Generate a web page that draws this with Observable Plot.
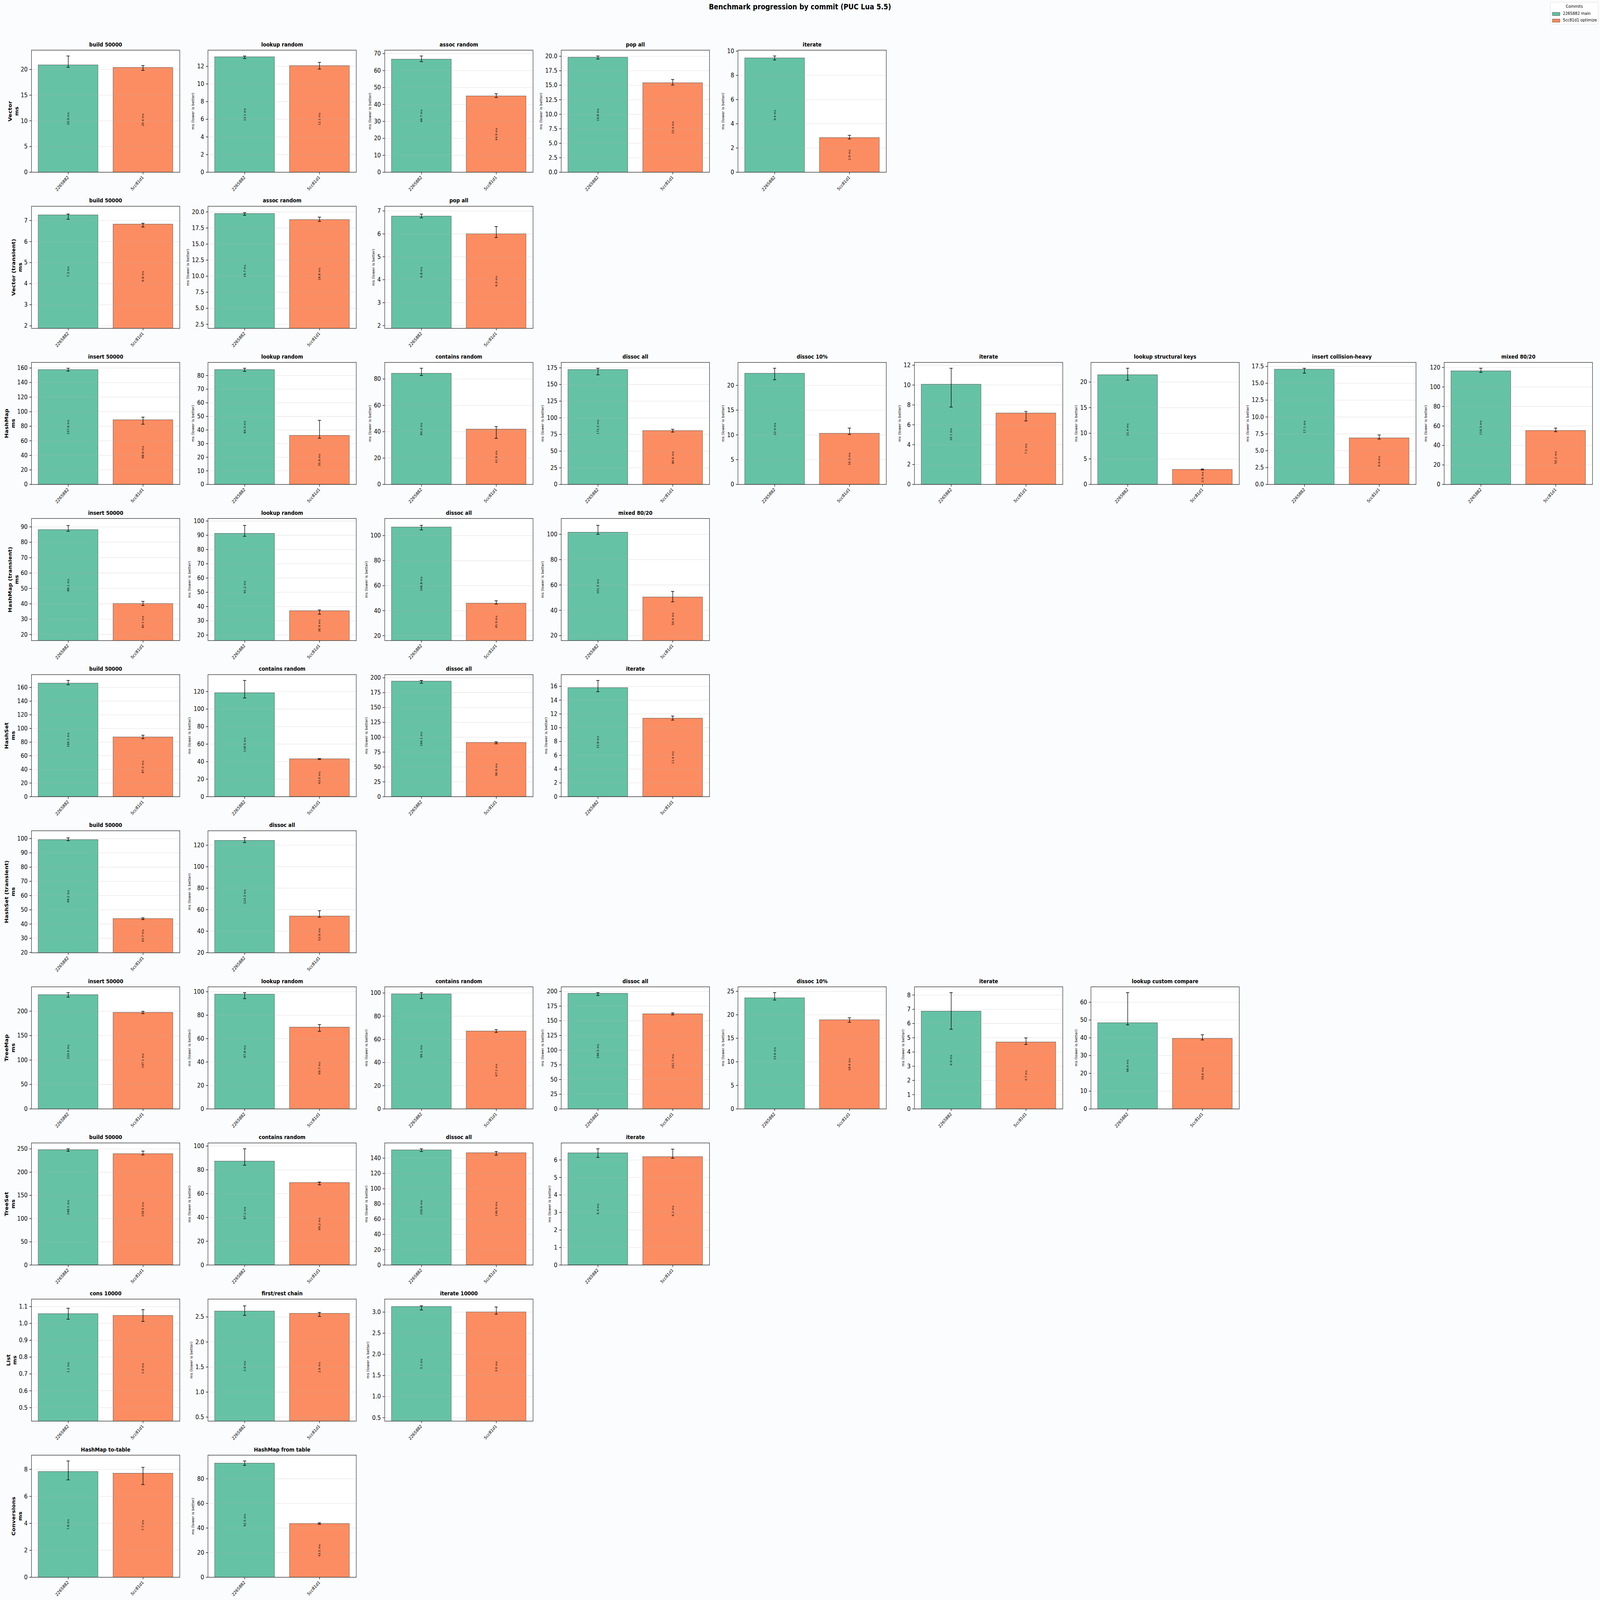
<!DOCTYPE html>
<html>
<head>
<meta charset="utf-8">
<script src="https://cdn.jsdelivr.net/npm/d3@7"></script>
<script src="https://cdn.jsdelivr.net/npm/@observablehq/plot@0.6"></script>
<style>
  html, body { margin: 0; padding: 0; background: #fbfcfd; overflow: hidden; }
  #fig { position: relative; width: 6074px; height: 5309px; background: #fbfcfd; font-family: "DejaVu Sans", sans-serif; overflow: hidden; transform-origin: 0 0; }
  #title { position: absolute; left: 0; width: 6074px; top: 8px; text-align: center; font-weight: bold; font-size: 25px; line-height: 30px; color: #000; }
  #legend { position: absolute; left: 5885px; top: 7px; width: 181px; height: 72px; border: 1px solid #d4d4d4; border-radius: 4px; background: #ffffff; font-size: 14.5px; color: #000; }
  #legend .lt { position: absolute; top: 4px; width: 100%; text-align: center; line-height: 18px; }
  #legend .sw { position: absolute; left: 7px; width: 27px; height: 9px; border: 1px solid #333; }
  #legend .tx { position: absolute; left: 47px; line-height: 18px; white-space: nowrap; }
</style>
</head>
<body>
<div id="fig">
  <div id="title">Benchmark progression by commit (PUC Lua 5.5)</div>
  <div id="legend"></div>
</div>
<script>
// ---------- data ----------
const commits = ["2265882", "5cc81d1"];
const commitNames = ["2265882 main", "5cc81d1 optimize"];
const commitColors = ["#66c2a5", "#fc8d62"];

const groups = ["Vector", "Vector (transient)", "HashMap", "HashMap (transient)", "HashSet",
                "HashSet (transient)", "TreeMap", "TreeSet", "List", "Conversions"];
const groupSizes = [5, 3, 9, 4, 4, 2, 7, 4, 3, 2];
const groupBottoms = [0, 1.88, 0, 16.1, 0, 19.8, 0, 0, 0.42, 0];

const benchTitles = [
  "build 50000", "lookup random", "assoc random", "pop all", "iterate",
  "build 50000", "assoc random", "pop all",
  "insert 50000", "lookup random", "contains random", "dissoc all", "dissoc 10%", "iterate", "lookup structural keys", "insert collision-heavy", "mixed 80/20",
  "insert 50000", "lookup random", "dissoc all", "mixed 80/20",
  "build 50000", "contains random", "dissoc all", "iterate",
  "build 50000", "dissoc all",
  "insert 50000", "lookup random", "contains random", "dissoc all", "dissoc 10%", "iterate", "lookup custom compare",
  "build 50000", "contains random", "dissoc all", "iterate",
  "cons 10000", "first/rest chain", "iterate 10000",
  "HashMap to-table", "HashMap from table"
];

// 2265882 main
const mainValue = [
  20.86, 13.06, 66.66, 19.8, 9.43,
  7.26, 19.72, 6.77,
  157.6, 84.3, 84.2, 172.2, 22.4, 10.06, 21.4, 17.06, 116.3,
  88.1, 91.2, 106.8, 101.5,
  166.1, 118.5, 194.1, 15.8,
  99.2, 124.3,
  233.4, 97.8, 99.1, 196.5, 23.56, 6.86, 48.4,
  248.1, 87.2, 150.6, 6.4,
  1.057, 2.614, 3.127,
  7.83, 92.5
];
const mainLo = [
  20.43, 12.89, 65.3, 19.52, 9.27,
  7.06, 19.47, 6.70,
  155.8, 83.1, 82.7, 164.5, 21.13, 7.78, 20.35, 16.5, 114.9,
  87.2, 89.3, 104.6, 100.0,
  164.0, 112.7, 190.8, 15.23,
  98.6, 122.5,
  228.7, 94.1, 95.2, 193.1, 23.14, 5.6, 47.3,
  245.0, 83.9, 148.7, 6.15,
  1.025, 2.53, 3.05,
  7.22, 90.9
];
const mainHi = [
  22.62, 13.17, 68.6, 20.05, 9.6,
  7.31, 19.88, 6.86,
  159.7, 85.4, 88.2, 174.4, 23.46, 11.69, 22.7, 17.23, 119.2,
  90.9, 96.9, 108.3, 107.1,
  170.3, 132.7, 195.6, 16.86,
  100.5, 127.1,
  237.8, 99.2, 100.3, 197.9, 24.7, 8.17, 65.4,
  250.4, 97.7, 152.3, 6.64,
  1.09, 2.72, 3.15,
  8.62, 94.4
];

// 5cc81d1 optimize
const optValue = [
  20.35, 12.06, 44.9, 15.4, 2.85,
  6.82, 18.78, 6.0,
  88.6, 35.9, 41.9, 80.6, 10.3, 7.17, 2.9, 6.88, 55.2,
  40.1, 36.9, 45.9, 50.4,
  87.2, 43.0, 90.9, 11.36,
  43.7, 53.9,
  197.1, 69.7, 67.1, 161.7, 18.9, 4.69, 39.6,
  239.5, 69.2, 146.9, 6.18,
  1.046, 2.568, 3.0,
  7.7, 43.5
];
const optLo = [
  19.82, 11.69, 44.1, 15.05, 2.75,
  6.69, 18.53, 5.84,
  82.8, 34.0, 35.0, 78.6, 10.08, 6.39, 2.82, 6.73, 54.1,
  38.9, 34.6, 45.3, 46.7,
  85.0, 42.5, 89.0, 11.11,
  43.1, 52.9,
  194.9, 66.2, 66.0, 160.0, 18.42, 4.53, 38.8,
  237.2, 67.4, 144.0, 6.1,
  1.012, 2.51, 2.95,
  6.87, 43.0
];
const optHi = [
  20.76, 12.45, 46.3, 16.0, 3.05,
  6.87, 19.19, 6.32,
  92.5, 47.1, 43.9, 82.8, 11.38, 7.34, 3.02, 7.34, 57.8,
  41.6, 37.6, 47.9, 54.9,
  90.0, 43.5, 92.2, 11.69,
  44.4, 59.0,
  199.6, 72.0, 68.5, 163.4, 19.36, 4.99, 41.7,
  245.5, 69.7, 148.8, 6.62,
  1.082, 2.59, 3.12,
  8.15, 44.2
];

// y tick step per panel
const tickSteps = [
  5, 2, 10, 2.5, 2,
  1, 2.5, 1,
  20, 10, 20, 25, 5, 2, 5, 2.5, 20,
  10, 10, 20, 20,
  20, 20, 25, 2,
  10, 20,
  50, 20, 20, 25, 5, 1, 10,
  50, 20, 20, 1,
  0.1, 0.5, 0.5,
  2, 20
];

// ---------- layout ----------
const FONT = "DejaVu Sans";
const FIG_W = 6074, FIG_H = 5309;
const plotW = 563, plotH = 405;
const colPitch = 670.4, rowPitch = 518;
const left0 = 119, top0 = 166;
const mL = 115, mR = 12, mT = 60, mB = 95;
const tickLen = 7.3, tickPad = 7.3, labelPad = 8.3;
const tickFont = 20.8;

function decimalsOf(step) {
  const s = String(step);
  return s.includes(".") ? s.split(".")[1].length : 0;
}
function tickTextWidth(s) {
  let w = 0;
  for (const ch of s) w += (ch === "." ? 0.318 : 0.636) * tickFont;
  return w;
}

const fig = document.getElementById("fig");
// make the figure fill the actual browser window exactly
function fitFigure() {
  const sx = window.innerWidth / FIG_W, sy = window.innerHeight / FIG_H;
  fig.style.transform = (Math.abs(sx - 1) < 1e-3 && Math.abs(sy - 1) < 1e-3) ? "none" : `scale(${sx}, ${sy})`;
}
fitFigure();
window.addEventListener("resize", fitFigure);

// legend
const legend = document.getElementById("legend");
legend.innerHTML = `<div class="lt">Commits</div>` +
  commitNames.map((n, k) =>
    `<div class="sw" style="top:${33 + k * 22}px;background:${commitColors[k]}"></div>` +
    `<div class="tx" style="top:${27 + k * 22}px">${n}</div>`).join("");

let idx = 0;
groupSizes.forEach((n, r) => {
  const bottom = groupBottoms[r];
  for (let c = 0; c < n; c++, idx++) {
    const i = idx;
    const data = commits.map((cm, k) => ({
      commit: cm,
      value: k ? optValue[i] : mainValue[i],
      lo: k ? optLo[i] : mainLo[i],
      hi: k ? optHi[i] : mainHi[i],
      color: commitColors[k]
    }));
    const top = 1.05 * Math.max(mainHi[i], optHi[i]);
    const step = tickSteps[i];
    const dec = decimalsOf(step);
    const ticks = d3.range(Math.ceil(bottom / step - 1e-9), Math.floor(top / step + 1e-9) + 1)
      .map(k => +(k * step).toFixed(6));
    const fmt = d => d.toFixed(dec);
    const tickW = Math.max(...ticks.map(t => tickTextWidth(fmt(t))));
    const E = tickLen + tickPad + tickW + labelPad;

    const bandStep = plotW / 1.98;
    const bw = 0.8 * bandStep;
    const capInset = (bw - 12.5) / 2;

    const ylabelMark = c === 0
      ? Plot.text([groups[r] + "\nms"], {frameAnchor: "left", dx: -(E + 21), rotate: -90,
          lineAnchor: "middle", textAnchor: "middle", fontWeight: "bold", fontSize: 18.75,
          lineHeight: 1.3, fill: "black"})
      : Plot.text(["ms (lower is better)"], {frameAnchor: "left", dx: -(E + 7), rotate: -90,
          lineAnchor: "middle", textAnchor: "middle", fontSize: 12.5, fill: "black"});

    const chart = Plot.plot({
      width: mL + plotW + mR,
      height: mT + plotH + mB,
      marginLeft: mL, marginRight: mR, marginTop: mT, marginBottom: mB,
      style: {background: "transparent", fontFamily: FONT, color: "black", overflow: "visible"},
      x: {type: "band", domain: commits, paddingInner: 0.2, paddingOuter: 0.09, axis: null},
      y: {domain: [bottom, top], axis: null},
      color: {type: "identity"},
      marks: [
        Plot.frame({fill: "white", stroke: "none"}),
        Plot.barY(data, {x: "commit", y1: 0, y2: "value", fill: "color", stroke: "#333333", strokeWidth: 1, clip: true}),
        Plot.gridY(ticks, {stroke: "#b0b0b0", strokeOpacity: 0.3, strokeWidth: 1.67}),
        Plot.ruleX(data, {x: "commit", y1: "lo", y2: "hi", stroke: "black", strokeWidth: 1.9}),
        Plot.tickY(data, {x: "commit", y: "lo", insetLeft: capInset, insetRight: capInset, stroke: "black", strokeWidth: 1.9}),
        Plot.tickY(data, {x: "commit", y: "hi", insetLeft: capInset, insetRight: capInset, stroke: "black", strokeWidth: 1.9}),
        Plot.text(data, {x: "commit", y: d => (bottom + d.value) / 2, text: d => d.value.toFixed(1) + " ms",
          rotate: -90, fontSize: 10.4, fill: "black"}),
        Plot.axisY({ticks, tickSize: tickLen, tickPadding: tickPad, tickFormat: fmt, fontSize: tickFont,
          label: null, strokeWidth: 1.67}),
        Plot.axisX({tickSize: tickLen, tickPadding: tickPad, tickRotate: -45, fontSize: 14.6,
          label: null, strokeWidth: 1.67}),
        Plot.frame({stroke: "#262626", strokeWidth: 1.67}),
        Plot.text([benchTitles[i]], {frameAnchor: "top", dy: -12.5, lineAnchor: "bottom",
          fontWeight: "bold", fontSize: 18.75, fill: "black"}),
        ylabelMark
      ]
    });
    chart.style.position = "absolute";
    chart.style.left = (left0 + c * colPitch - mL) + "px";
    chart.style.top = (top0 + r * rowPitch - mT) + "px";
    chart.style.maxWidth = "none";
    fig.appendChild(chart);
  }
});
</script>
</body>
</html>
